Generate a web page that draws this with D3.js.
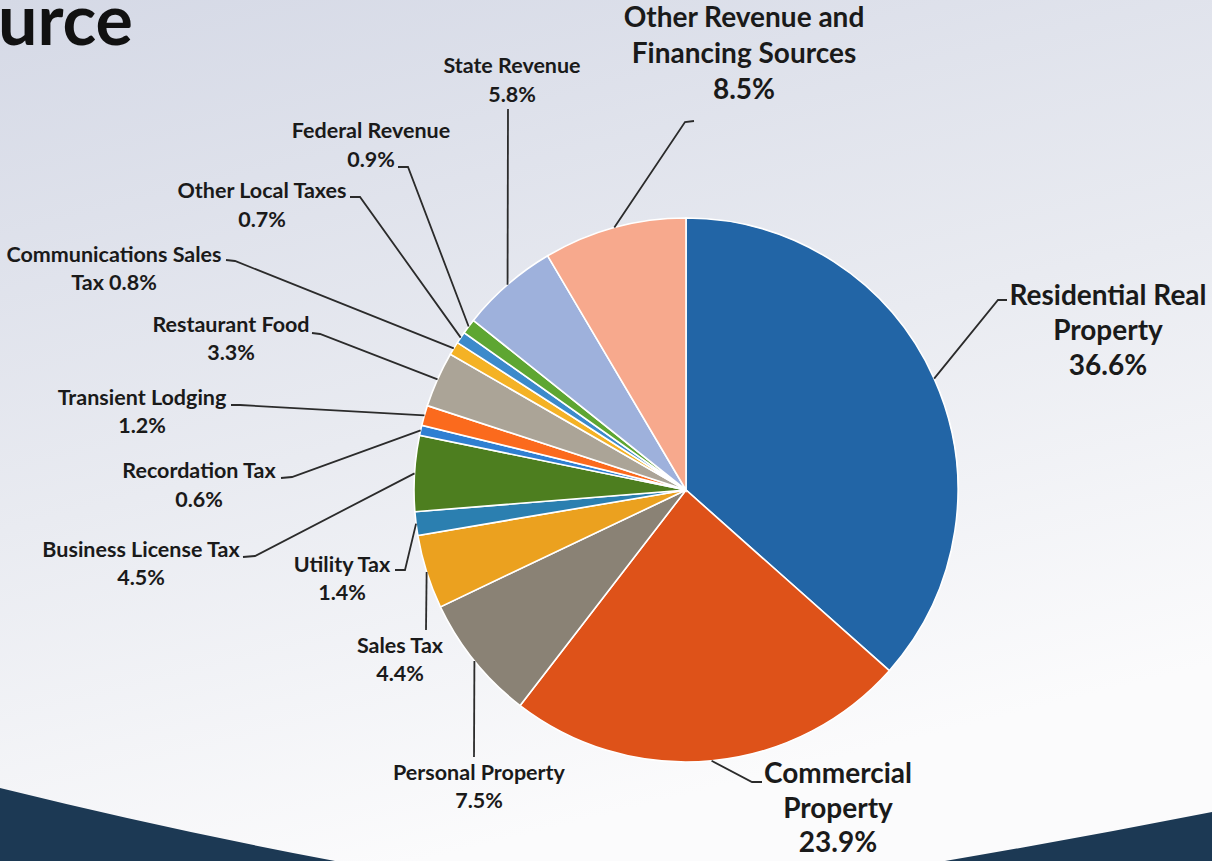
<!DOCTYPE html>
<html>
<head>
<meta charset="utf-8">
<script src="https://cdn.jsdelivr.net/npm/d3@7"></script>
<style>
  html, body { margin: 0; padding: 0; overflow: hidden; }
  body { width: 1212px; height: 861px; }
  text { font-family: Lato, "Open Sans", sans-serif; font-weight: 700; fill: #1a1a1a; }
</style>
</head>
<body>
<div id="chart"></div>
<script>
// DATA - revenue sources, clockwise from 12 o'clock
const categories = [
  "Residential Real\nProperty", "Commercial\nProperty", "Personal Property", "Sales Tax",
  "Utility Tax", "Business License Tax", "Recordation Tax", "Transient Lodging",
  "Restaurant Food", "Communications Sales\nTax", "Other Local Taxes", "Federal Revenue",
  "State Revenue", "Other Revenue and\nFinancing Sources"
]
const shares = [36.6, 23.9, 7.5, 4.4, 1.4, 4.5, 0.6, 1.2, 3.3, 0.8, 0.7, 0.9, 5.8, 8.5]
const colors = [
  "#2265a6", "#de5219", "#8a8275", "#eba11f", "#2b7fb0", "#4d7e1f", "#2f7fd2",
  "#fb6a1d", "#aba497", "#f4b225", "#3c8acb", "#5ea632", "#9eb1dc", "#f7a98d"
]

// Label placement (text centre, first baseline, line gap, leader bend + tail)
const big = 28, small = 21.5
const labelLayout = [
  { x: 1108, y: 305, gap: 35, size: big, bend: [998, 300], tail: [1007, 300] },
  { x: 838, y: 783, gap: 34.5, size: big, bend: [752, 782], tail: [762, 782] },
  { x: 479, y: 780, gap: 28, size: small, bend: [474, 757] },
  { x: 400, y: 653, gap: 28, size: small, bend: [426, 630] },
  { x: 342, y: 572, gap: 28, size: small, bend: [405, 570], tail: [395, 570] },
  { x: 141, y: 557, gap: 28, size: small, bend: [255, 556], tail: [243, 557] },
  { x: 199, y: 478, gap: 29, size: small, bend: [292, 477], tail: [281, 478] },
  { x: 142, y: 405, gap: 28, size: small, bend: [240, 405], tail: [231, 405] },
  { x: 231, y: 332, gap: 28, size: small, bend: [320, 334], tail: [312, 333] },
  { x: 114, y: 262, gap: 28, size: small, bend: [235, 261], tail: [226, 260], inline: true },
  { x: 262, y: 198, gap: 29, size: small, bend: [360, 197], tail: [350, 197] },
  { x: 371, y: 138, gap: 29, size: small, bend: [408, 167], tail: [398, 167] },
  { x: 512, y: 73, gap: 29, size: small, bend: [508, 109] },
  { x: 744, y: 27, gap: 36, size: big, bend: [685, 122], tail: [694, 121] }
]

const width = 1212
const height = 861
const cx = 686, cy = 490, radius = 272

const svg = d3.select("#chart").append("svg")
  .attr("width", width).attr("height", height)

// Background gradient
const defs = svg.append("defs")
const bg = defs.append("linearGradient").attr("id", "bg")
  .attr("x1", 0).attr("y1", 0).attr("x2", 0.35).attr("y2", 1)
bg.append("stop").attr("offset", 0).attr("stop-color", "#d5d9e6")
bg.append("stop").attr("offset", 0.55).attr("stop-color", "#e9ebf1")
bg.append("stop").attr("offset", 1).attr("stop-color", "#fbfbfc")
svg.append("rect").attr("width", width).attr("height", height).attr("fill", "url(#bg)")

// Dark navy swoosh at the bottom corners
svg.append("path").attr("fill", "#1c3954")
  .attr("d", "M0,788 Q170,830 335,861 L0,861 Z")
svg.append("path").attr("fill", "#1c3954")
  .attr("d", "M1212,812 Q1080,838 945,861 L1212,861 Z")

// Title fragment (cropped slide title)
svg.append("text").attr("x", 133).attr("y", 45)
  .attr("text-anchor", "end").style("font-size", "70px").style("fill", "#111")
  .text("urce")

// Pie
const data = categories.map((c, i) => ({ name: c, value: shares[i], color: colors[i], layout: labelLayout[i] }))
const pie = d3.pie().value(d => d.value).sort(null)
const arcs = pie(data)
const arc = d3.arc().innerRadius(0).outerRadius(radius)
const edge = d3.arc().innerRadius(radius).outerRadius(radius)

const g = svg.append("g").attr("transform", `translate(${cx}, ${cy})`)

g.selectAll("path.slice").data(arcs).enter()
  .append("path").attr("class", "slice")
  .attr("d", arc)
  .attr("fill", d => d.data.color)
  .attr("stroke", "#ffffff").attr("stroke-width", 1.6)

// Leader lines
const leaders = svg.append("g")
arcs.forEach(a => {
  const [px, py] = edge.centroid(a)
  const L = a.data.layout
  const pts = [[cx + px, cy + py], L.bend]
  if (L.tail) pts.push(L.tail)
  leaders.append("path")
    .attr("d", d3.line()(pts))
    .attr("fill", "none").attr("stroke", "#2b2b2b").attr("stroke-width", 1.8)
})

// Labels
const labels = svg.append("g")
arcs.forEach(a => {
  const L = a.data.layout
  const pct = a.data.value.toFixed(1) + "%"
  let lines = a.data.name.split("\n")
  if (L.inline) lines[lines.length - 1] += " " + pct
  else lines.push(pct)
  const t = labels.append("text")
    .attr("text-anchor", "middle")
    .style("font-size", L.size + "px")
  lines.forEach((ln, i) => {
    t.append("tspan").attr("x", L.x).attr("y", L.y + i * L.gap).text(ln)
  })
})
</script>
</body>
</html>
